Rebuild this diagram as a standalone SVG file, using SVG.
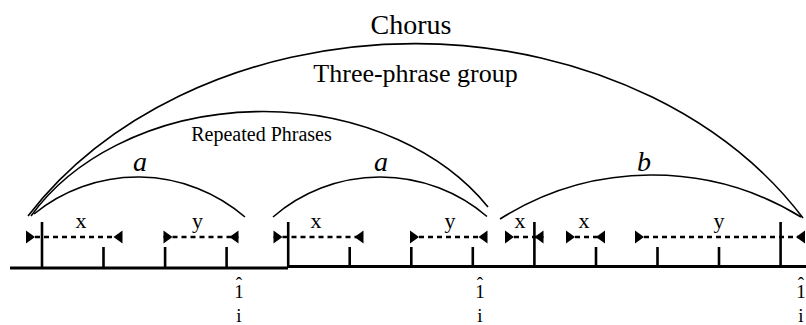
<svg xmlns="http://www.w3.org/2000/svg" width="806" height="325" viewBox="0 0 806 325">
<style>
text{font-family:"Liberation Serif","Times New Roman",serif;fill:#000;text-anchor:middle}
.arc{fill:none;stroke:#000;stroke-width:1.6}
.base{stroke:#000;stroke-width:3;fill:none}
.tick{stroke:#000;stroke-width:2.6}
.seg{stroke:#000;stroke-width:2.6;stroke-dasharray:5 4;fill:none;marker-start:url(#tri);marker-end:url(#tri)}
.lab{font-size:22px}
.it{font-size:28px;font-style:italic}
.deg{font-size:19px}
</style>
<defs>
<marker id="tri" markerUnits="userSpaceOnUse" viewBox="-10 -7 11 14" refX="0" refY="0" markerWidth="11" markerHeight="14" orient="auto-start-reverse" overflow="visible">
<path d="M0,-6.5 L0,6.5 L-9,0 Z" fill="#000"/>
</marker>
</defs>
<g id="arcs">
<g id="chorus"><path class="arc" stroke-width="1.9" d="M28,216 A454,362 0 0 1 803,218"/><text x="411" y="34" font-size="28">Chorus</text><text x="415.5" y="82" font-size="26">Three-phrase group</text></g>
<g id="repeated"><path class="arc" d="M31,216 A264,200 0 0 1 488,207"/><text x="261.5" y="141" font-size="20">Repeated Phrases</text></g>
<g id="phrase-a1"><path class="arc" d="M34,214 A164,164 0 0 1 245,217"/><text class="it" x="140" y="171">a</text></g>
<g id="phrase-a2"><path class="arc" d="M273,217 A164,164 0 0 1 487,216.5"/><text class="it" x="381" y="171">a</text></g>
<g id="phrase-b"><path class="arc" d="M500,219 A285,285 0 0 1 801,217"/><text class="it" x="644" y="171">b</text></g>
</g>
<g id="timeline">
<path class="base" d="M10,268 H288 M288,266.5 H806"/>
<path class="tick" d="M42,222 V268 M288.2,222 V268 M534.4,222 V267 M780.6,222 V267 M103.5,247 V268 M165.1,247 V268 M226.6,247 V268 M349.7,247 V267 M411.3,247 V267 M472.8,247 V267 M596,247 V267 M657.5,247 V267 M719,247 V267"/>
</g>
<g id="connectors">
<line class="seg" x1="26" y1="237" x2="122.5" y2="237"/>
<line class="seg" x1="163.5" y1="237" x2="238.5" y2="237"/>
<line class="seg" x1="273.5" y1="237" x2="363.5" y2="237"/>
<line class="seg" x1="410" y1="237" x2="487.5" y2="237"/>
<line class="seg" x1="505" y1="237" x2="543.5" y2="237"/>
<line class="seg" x1="566" y1="237" x2="605" y2="237"/>
<line class="seg" x1="635" y1="237" x2="805" y2="237"/>
</g>
<g id="segment-labels">
<text class="lab" x="81" y="228">x</text>
<text class="lab" x="197.5" y="228">y</text>
<text class="lab" x="316" y="228">x</text>
<text class="lab" x="450" y="228">y</text>
<text class="lab" x="520" y="228">x</text>
<text class="lab" x="584" y="228">x</text>
<text class="lab" x="719" y="228">y</text>
</g>
<g id="cadences">
<g id="cad1"><text class="deg"><tspan x="239" y="290">ˆ</tspan><tspan x="239" y="298">1</tspan></text><text class="deg" x="239" y="322">i</text></g>
<g id="cad2"><text class="deg"><tspan x="480" y="290">ˆ</tspan><tspan x="480" y="298">1</tspan></text><text class="deg" x="480" y="322">i</text></g>
<g id="cad3"><text class="deg"><tspan x="801" y="290">ˆ</tspan><tspan x="801" y="298">1</tspan></text><text class="deg" x="801" y="322">i</text></g>
</g>
</svg>
